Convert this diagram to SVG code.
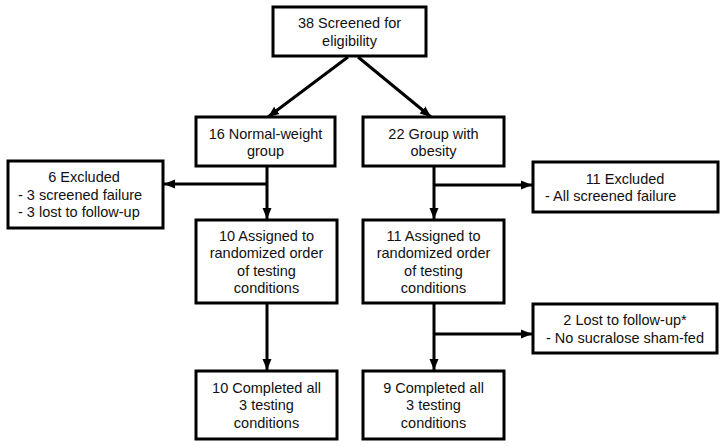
<svg xmlns="http://www.w3.org/2000/svg" width="724" height="446" viewBox="0 0 724 446">
<style>
.box{fill:#fff;stroke:#000;stroke-width:3}
.t{font-family:"Liberation Sans",Arial,sans-serif;font-size:14.5px;fill:#111;text-anchor:middle}
.l{text-anchor:start}
.c{fill:none;stroke:#000;stroke-width:3}
</style>
<defs>
<marker id="ah" markerUnits="userSpaceOnUse" markerWidth="12" markerHeight="12" viewBox="0 0 12 12" refX="11" refY="6" orient="auto">
<path d="M0,1.5 L11,6 L0,10.5 Z" fill="#000"/>
</marker>
</defs>
<rect width="724" height="446" fill="#fff"/>
<g id="connectors">
<line class="c" x1="348" y1="57" x2="268" y2="117" marker-end="url(#ah)"/>
<line class="c" x1="358" y1="57" x2="431" y2="117" marker-end="url(#ah)"/>
<line class="c" x1="267" y1="166" x2="267" y2="219" marker-end="url(#ah)"/>
<line class="c" x1="268" y1="184" x2="164" y2="184" marker-end="url(#ah)"/>
<line class="c" x1="434" y1="166" x2="434" y2="219" marker-end="url(#ah)"/>
<line class="c" x1="433" y1="185" x2="532" y2="185" marker-end="url(#ah)"/>
<line class="c" x1="267" y1="303" x2="267" y2="370" marker-end="url(#ah)"/>
<line class="c" x1="434" y1="303" x2="434" y2="370" marker-end="url(#ah)"/>
<line class="c" x1="433" y1="334" x2="532" y2="334" marker-end="url(#ah)"/>
</g>
<g id="screened">
<rect class="box" x="273" y="7" width="153" height="49"/>
<text class="t" x="349.5" y="28">38 Screened for</text>
<text class="t" x="349.5" y="45.5">eligibility</text>
</g>
<g id="normal">
<rect class="box" x="196" y="117" width="139" height="49"/>
<text class="t" x="265.5" y="138.5">16 Normal-weight</text>
<text class="t" x="265.5" y="156">group</text>
</g>
<g id="obesity">
<rect class="box" x="363" y="117" width="141" height="49"/>
<text class="t" x="433.5" y="138.5">22 Group with</text>
<text class="t" x="433.5" y="156">obesity</text>
</g>
<g id="excluded-left">
<rect class="box" x="8" y="161" width="155" height="67"/>
<text class="t" x="84" y="182">6 Excluded</text>
<text class="t l" x="18" y="199.5">- 3 screened failure</text>
<text class="t l" x="18" y="217">- 3 lost to follow-up</text>
</g>
<g id="excluded-right">
<rect class="box" x="533" y="162" width="185" height="50"/>
<text class="t" x="625" y="183.5">11 Excluded</text>
<text class="t l" x="545" y="201">- All screened failure</text>
</g>
<g id="assigned-left">
<rect class="box" x="196" y="220" width="141" height="83"/>
<text class="t" x="266.5" y="240.5">10 Assigned to</text>
<text class="t" x="266.5" y="258">randomized order</text>
<text class="t" x="266.5" y="275.5">of testing</text>
<text class="t" x="266.5" y="293">conditions</text>
</g>
<g id="assigned-right">
<rect class="box" x="363" y="220" width="141" height="83"/>
<text class="t" x="433.5" y="240.5">11 Assigned to</text>
<text class="t" x="433.5" y="258">randomized order</text>
<text class="t" x="433.5" y="275.5">of testing</text>
<text class="t" x="433.5" y="293">conditions</text>
</g>
<g id="lost">
<rect class="box" x="533" y="304" width="184" height="49"/>
<text class="t" x="625" y="325">2 Lost to follow-up*</text>
<text class="t" x="625" y="342.5">- No sucralose sham-fed</text>
</g>
<g id="completed-left">
<rect class="box" x="196" y="371" width="141" height="68"/>
<text class="t" x="266.5" y="392.5">10 Completed all</text>
<text class="t" x="266.5" y="410">3 testing</text>
<text class="t" x="266.5" y="427.5">conditions</text>
</g>
<g id="completed-right">
<rect class="box" x="363" y="371" width="141" height="68"/>
<text class="t" x="433.5" y="392.5">9 Completed all</text>
<text class="t" x="433.5" y="410">3 testing</text>
<text class="t" x="433.5" y="427.5">conditions</text>
</g>
</svg>
